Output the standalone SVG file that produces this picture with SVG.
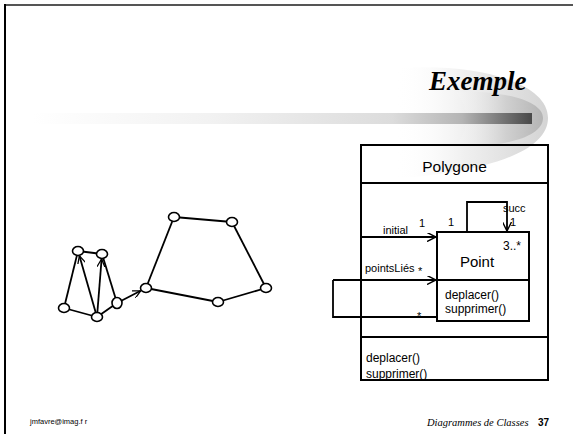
<svg xmlns="http://www.w3.org/2000/svg" width="573" height="434" viewBox="0 0 573 434">
<defs>
<linearGradient id="bar" x1="33" y1="0" x2="532" y2="0" gradientUnits="userSpaceOnUse">
<stop offset="0" stop-color="#ffffff"/>
<stop offset="0.35" stop-color="#f2f2f2"/>
<stop offset="0.72" stop-color="#dcdcdc"/>
<stop offset="0.86" stop-color="#b4b4b4"/>
<stop offset="1" stop-color="#484848"/>
</linearGradient>
<linearGradient id="sw1" x1="395" y1="0" x2="548" y2="0" gradientUnits="userSpaceOnUse">
<stop offset="0" stop-color="#ffffff" stop-opacity="0"/>
<stop offset="0.45" stop-color="#f0f0f0"/>
<stop offset="1" stop-color="#d4d4d4"/>
</linearGradient>
<linearGradient id="sw2" x1="450" y1="0" x2="543" y2="0" gradientUnits="userSpaceOnUse">
<stop offset="0" stop-color="#ffffff" stop-opacity="0"/>
<stop offset="0.6" stop-color="#d0d0d0"/>
<stop offset="1" stop-color="#b4b4b4"/>
</linearGradient>
<marker id="v" viewBox="0 0 10 10" refX="10" refY="5" markerWidth="9" markerHeight="9" markerUnits="userSpaceOnUse" orient="auto">
<path d="M0,0 L10,5 L0,10" fill="none" stroke="#000" stroke-width="1.6"/>
</marker>
<marker id="vs" viewBox="0 0 10 10" refX="10" refY="5" markerWidth="8" markerHeight="8" markerUnits="userSpaceOnUse" orient="auto">
<path d="M0,0 L10,5 L0,10" fill="none" stroke="#000" stroke-width="1.6"/>
</marker>
</defs>
<style>
.ln{stroke:#000;stroke-width:1.8;fill:none}
.nd{fill:#fff;stroke:#000;stroke-width:1.6}
.box{fill:none;stroke:#000;stroke-width:2}
.t{font-family:"Liberation Sans",Arial,sans-serif;fill:#000}
</style>
<rect width="573" height="434" fill="#fff"/>
<!-- frame -->
<line x1="5" y1="5" x2="573" y2="5" stroke="#555" stroke-width="2"/>
<line x1="5" y1="4" x2="5" y2="434" stroke="#000" stroke-width="2"/>
<!-- swoosh -->
<path d="M380,70 C460,60 548,78 548,118 C548,156 470,176 370,180 C400,150 400,90 380,70 Z" fill="url(#sw1)"/>
<path d="M455,92 C500,90 543,100 543,118 C543,138 500,148 455,146 C470,130 470,105 455,92 Z" fill="url(#sw2)"/>
<rect x="33" y="113" width="499" height="11" fill="url(#bar)"/>
<text x="429" y="90" font-family="'Liberation Serif','Times New Roman',serif" font-weight="bold" font-style="italic" font-size="27">Exemple</text>

<!-- connectors -->
<g id="connectors">
<line class="ln" x1="78" y1="251" x2="102" y2="254"/>
<line class="ln" x1="78" y1="251" x2="64" y2="308"/>
<line class="ln" x1="64" y1="308" x2="97" y2="317"/>
<line class="ln" x1="97" y1="317" x2="79.4" y2="255.8" marker-end="url(#vs)"/>
<line class="ln" x1="97" y1="317" x2="101.6" y2="259" marker-end="url(#vs)"/>
<line class="ln" x1="102" y1="254" x2="117" y2="303"/>
<line class="ln" x1="97" y1="317" x2="117" y2="303"/>
<line class="ln" x1="117" y1="303" x2="140.7" y2="290.8" marker-end="url(#vs)"/>
<line class="ln" x1="146" y1="288" x2="174" y2="217"/>
<line class="ln" x1="174" y1="217" x2="232" y2="222"/>
<line class="ln" x1="232" y1="222" x2="266" y2="288"/>
<line class="ln" x1="266" y1="288" x2="218" y2="302"/>
<line class="ln" x1="218" y1="302" x2="146" y2="288"/>
<path class="ln" d="M361,237 L436,237" marker-end="url(#v)"/>
<path class="ln" d="M333,280 L436,280" marker-end="url(#v)"/>
<path class="ln" d="M333,280 L333,317 L437,317"/>
<path class="ln" d="M467,232 L467,202 L507,202 L507,231" marker-end="url(#v)"/>
</g>

<!-- graph nodes -->
<g id="n1"><ellipse class="nd" cx="78" cy="251" rx="5.5" ry="4.5"/></g>
<g id="n2"><ellipse class="nd" cx="102" cy="254" rx="5.5" ry="4.5"/></g>
<g id="n3"><ellipse class="nd" cx="64" cy="308" rx="5.5" ry="4.5"/></g>
<g id="n4"><ellipse class="nd" cx="97" cy="317" rx="5.5" ry="4.5"/></g>
<g id="n5"><ellipse class="nd" cx="117" cy="303" rx="5" ry="5.5"/></g>
<g id="n6"><ellipse class="nd" cx="146" cy="288" rx="5.5" ry="4.5"/></g>
<g id="n7"><ellipse class="nd" cx="174" cy="217" rx="5.5" ry="4.5"/></g>
<g id="n8"><ellipse class="nd" cx="232" cy="222" rx="5.5" ry="4.5"/></g>
<g id="n9"><ellipse class="nd" cx="266" cy="288" rx="5.5" ry="4.5"/></g>
<g id="n10"><ellipse class="nd" cx="218" cy="302" rx="5.5" ry="4.5"/></g>

<!-- Polygone class -->
<g id="polygone">
<rect class="box" x="361" y="145" width="187" height="235"/>
<line class="box" x1="361" y1="183" x2="548" y2="183"/>
<line class="box" x1="361" y1="337" x2="548" y2="337"/>
<text class="t" x="454.5" y="172" font-size="15.5" text-anchor="middle">Polygone</text>
<text class="t" x="366" y="362" font-size="12">deplacer()</text>
<text class="t" x="366" y="378" font-size="12">supprimer()</text>
</g>
<!-- Point class -->
<g id="point">
<rect class="box" x="437" y="232" width="92" height="89"/>
<line class="box" x1="437" y1="280" x2="529" y2="280"/>
<text class="t" x="477" y="267" font-size="15" text-anchor="middle">Point</text>
<text class="t" x="521" y="250" font-size="12" text-anchor="end">3..*</text>
<text class="t" x="445" y="299" font-size="12">deplacer()</text>
<text class="t" x="445" y="313" font-size="12">supprimer()</text>
</g>
<!-- association labels -->
<g id="labels">
<text class="t" x="383" y="234" font-size="11">initial</text>
<text class="t" x="419" y="227" font-size="11">1</text>
<text class="t" x="448" y="226" font-size="11">1</text>
<text class="t" x="503" y="212" font-size="11">succ</text>
<text class="t" x="510" y="226" font-size="11">1</text>
<text class="t" x="365" y="272" font-size="11">pointsLiés</text>
<text class="t" x="418" y="275" font-size="11">*</text>
<text class="t" x="417" y="320" font-size="11">*</text>
</g>
<!-- footer -->
<text class="t" x="30" y="424" font-size="7.5">jmfavre@imag.f r</text>
<text x="427" y="426" font-family="'Liberation Serif','Times New Roman',serif" font-style="italic" font-size="10.5">Diagrammes de Classes</text>
<text class="t" x="538" y="426" font-size="10" font-weight="bold">37</text>
</svg>
